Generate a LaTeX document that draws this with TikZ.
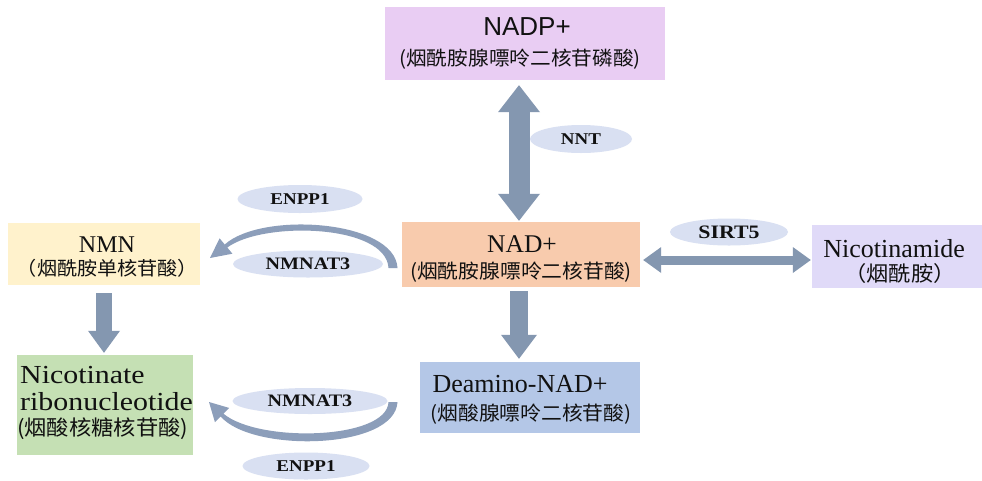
\documentclass[tikz,border=0pt]{standalone}
\usepackage{fontspec}
\setmainfont{Liberation Serif}
\newfontfamily\serifw[FakeStretch=1.15]{Liberation Serif}
\newfontfamily\cjk[FakeStretch=1.06]{Noto Sans CJK SC}
\newfontfamily\arialf{Liberation Sans}
\usetikzlibrary{shapes.geometric,arrows.meta,calc}
\definecolor{arrowc}{HTML}{8497B0}
\definecolor{curvec}{HTML}{8C9EBA}
\definecolor{enzc}{HTML}{D9E0F2}
\definecolor{nadpc}{HTML}{E9CDF3}
\definecolor{nadc}{HTML}{F8CBAD}
\definecolor{nmnc}{HTML}{FFF2CC}
\definecolor{nicoc}{HTML}{E0DAF8}
\definecolor{nicrc}{HTML}{C5E0B4}
\definecolor{deamc}{HTML}{B4C7E7}
\definecolor{txtc}{HTML}{111111}
\tikzset{
  box/.style={rectangle, inner sep=0pt},
  lbl/.style={inner sep=0pt, anchor=base, text=txtc},
  lbll/.style={inner sep=0pt, anchor=base west, text=txtc},
  enz/.style={ellipse, fill=enzc, inner sep=0pt, text=txtc, font=\serifw\bfseries\fontsize{16.5}{17}\selectfont},
  blockarr/.style n args={3}{draw=arrowc, line width=#1,
     arrows={-{Triangle[width=#2,length=#3,line width=0pt]}}},
  dblockarr/.style n args={3}{draw=arrowc, line width=#1,
     arrows={{Triangle[width=#2,length=#3,line width=0pt]}-{Triangle[width=#2,length=#3,line width=0pt]}}}
}
\begin{document}
\begin{tikzpicture}[x=1pt,y=-1pt]
\useasboundingbox (0,0) rectangle (982,480);
\fill[white] (0,0) rectangle (982,480);

% boxes
\node[box, fill=nadpc, minimum width=280, minimum height=73] (nadp) at (525,43.5) {};
\node[box, fill=nadc,  minimum width=238, minimum height=65] (nad)  at (521,254.5) {};
\node[box, fill=nmnc,  minimum width=192, minimum height=62] (nmn)  at (104,254) {};
\node[box, fill=nicoc, minimum width=170, minimum height=63] (nico) at (897,256.5) {};
\node[box, fill=nicrc, minimum width=176, minimum height=100] (nicr) at (105,405) {};
\node[box, fill=deamc, minimum width=220, minimum height=71] (deam) at (530,397.5) {};

% box texts
\node[lbl, font=\arialf\fontsize{26}{28}\selectfont] (nadpa) at (527,35) {NADP+};
\node[lbl, font=\cjk\fontsize{19.5}{22}\selectfont] (nadpb) at (520,65) {(烟酰胺腺嘌呤二核苷磷酸)};
\node[lbl, font=\fontsize{25.5}{28}\selectfont] (nada) at (522,252) {NAD+};
\node[lbl, font=\cjk\fontsize{19.6}{22}\selectfont] (nadb) at (521,278.5) {(烟酰胺腺嘌呤二核苷酸)};
\node[lbl, font=\fontsize{24}{26}\selectfont] (nmna) at (107,252) {NMN};
\node[lbl, font=\cjk\fontsize{19}{22}\selectfont] (nmnb) at (107.5,275.5) {（烟酰胺单核苷酸）};
\node[lbl, font=\fontsize{26}{28}\selectfont] (nicoa) at (894,257) {Nicotinamide};
\node[lbl, font=\cjk\fontsize{21}{22}\selectfont] (nicob) at (900,281.5) {（烟酰胺）};
\node[lbll, font=\serifw\fontsize{26}{28}\selectfont] (nicra) at (20,383) {Nicotinate};
\node[lbll, font=\serifw\fontsize{26}{28}\selectfont] (nicrb) at (20,410) {ribonucleotide};
\node[lbll, font=\cjk\fontsize{21}{22}\selectfont] (nicrc) at (17,435.5) {(烟酸核糖核苷酸)};
\node[lbl, font=\fontsize{26}{28}\selectfont] (deama) at (520,392) {Deamino-NAD+};
\node[lbl, font=\cjk\fontsize{19.6}{22}\selectfont] (deamb) at (531,420.5) {(烟酸腺嘌呤二核苷酸)};

% enzyme ellipses
\node[enz, minimum width=102, minimum height=28] (nnt) at (581,139) {NNT};
\node[enz, minimum width=125, minimum height=28] (enppa) at (300,199) {ENPP1};
\node[enz, minimum width=150, minimum height=27, font=\serifw\bfseries\fontsize{17.5}{18}\selectfont] (nmnata) at (308,264) {NMNAT3};
\node[enz, minimum width=118, minimum height=27, font=\serifw\bfseries\fontsize{19}{19}\selectfont] (sirt) at (729,232) {SIRT5};
\node[enz, minimum width=155, minimum height=26, font=\serifw\bfseries\fontsize{17.5}{18}\selectfont] (nmnatb) at (310,401) {NMNAT3};
\node[enz, minimum width=127, minimum height=27] (enppb) at (306,466) {ENPP1};

% straight block arrows
\coordinate (ax) at (519,0);
\coordinate (bx) at (104,0);
\coordinate (sy) at (0,260);
\draw[dblockarr={21pt}{42pt}{27pt}, shorten <=5pt, shorten >=1pt] (nadp.south -| ax) -- (nad.north -| ax);
\draw[dblockarr={9pt}{26pt}{18pt}, shorten <=3pt, shorten >=1pt] (nad.east |- sy) -- (nico.west |- sy);
\draw[blockarr={18pt}{36pt}{24pt}, shorten <=4pt, shorten >=3pt] (nad.south -| ax) -- (deam.north -| ax);
\draw[blockarr={16pt}{32pt}{22pt}, shorten <=8pt, shorten >=2pt] (nmn.south -| bx) -- (nicr.north -| bx);

% curved arrow (NAD+ -> NMN, top)
\fill[curvec] (397.5,268) .. controls (395,220) and (262,211) .. (224.7,244.5)
  -- (219.6,238.3) -- (210,258) -- (232.4,253.7) -- (227.3,247.5)
  .. controls (263,221) and (386,224) .. (388.5,268) -- cycle;
% curved arrow (Deamino-NAD+ -> Nicotinate ribonucleotide, bottom)
\fill[curvec] (397.5,402) .. controls (395,450) and (252,453) .. (220.6,416.4)
  -- (214.9,422.1) -- (209,402) -- (229.1,407.9) -- (223.4,413.6)
  .. controls (258,443) and (387,440) .. (388.5,402) -- cycle;
\end{tikzpicture}
\end{document}
